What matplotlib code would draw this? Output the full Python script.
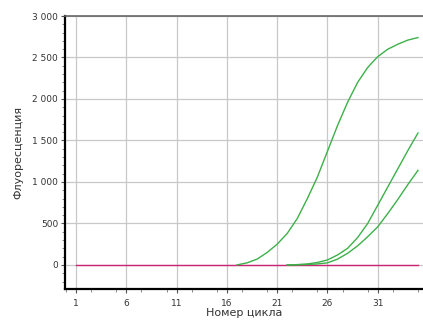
import matplotlib
matplotlib.use('Agg')
import matplotlib.pyplot as plt
from matplotlib.ticker import MultipleLocator

# данные кривых амплификации
cycles_1 = [17, 18, 19, 20, 21, 22, 23, 24, 25, 26, 27, 28, 29, 30, 31, 32, 33, 34, 35]
fluor_1 = [0, 25, 70, 150, 250, 380, 560, 800, 1060, 1370, 1680, 1960, 2200, 2380, 2510, 2600, 2660, 2710, 2740]

cycles_2 = [22, 23, 24, 25, 26, 27, 28, 29, 30, 31, 32, 33, 34, 35]
fluor_2 = [0, 4, 12, 30, 60, 120, 200, 330, 500, 720, 940, 1160, 1380, 1590]

cycles_3 = [22, 23, 24, 25, 26, 27, 28, 29, 30, 31, 32, 33, 34, 35]
fluor_3 = [0, 2, 5, 12, 25, 70, 140, 230, 340, 460, 620, 790, 970, 1140]

baseline_cycles = [1, 35]
baseline_vals = [0, 0]

x_ticks = [1, 6, 11, 16, 21, 26, 31]
y_ticks = [0, 500, 1000, 1500, 2000, 2500, 3000]
y_tick_labels = ['0', '500', '1 000', '1 500', '2 000', '2 500', '3 000']

plt.rcParams['font.family'] = ['DejaVu Sans']

fig = plt.figure(figsize=(4.23, 3.31), dpi=100)
ax = fig.add_axes([65 / 423, 42 / 331, 1 - 65 / 423, 273 / 331])

green = '#3db04a'
ax.plot(baseline_cycles, baseline_vals, color='#cc2277', lw=1.0, zorder=3)
ax.plot(cycles_1, fluor_1, color=green, lw=1.0, zorder=4)
ax.plot(cycles_2, fluor_2, color=green, lw=1.0, zorder=4)
ax.plot(cycles_3, fluor_3, color=green, lw=1.0, zorder=4)

ax.set_xlim(-0.1, 35.5)
ax.set_ylim(-290, 3000)

ax.set_xticks(x_ticks)
ax.set_xticklabels([str(c) for c in x_ticks])
ax.set_yticks(y_ticks)
ax.set_yticklabels(y_tick_labels)
ax.xaxis.set_minor_locator(MultipleLocator(2.5))
ax.yaxis.set_minor_locator(MultipleLocator(100))

ax.grid(True, which='major', color='#c8c8c8', lw=0.9)
ax.set_axisbelow(True)

ax.tick_params(axis='both', which='major', labelsize=6.5, length=3, width=0.8,
               color='#555555', labelcolor='#333333', pad=2)
ax.tick_params(axis='x', which='major', pad=4)
ax.tick_params(axis='both', which='minor', length=2, width=0.6, color='#777777')

ax.spines['left'].set_linewidth(1.6)
ax.spines['bottom'].set_linewidth(1.6)
ax.spines['top'].set_color('#666666')
ax.spines['top'].set_linewidth(1.2)
ax.spines['right'].set_visible(False)

ax.set_xlabel('Номер цикла', fontsize=8, color='#333333', labelpad=0)
ax.set_ylabel('Флуоресценция', fontsize=8, color='#333333', labelpad=6)

fig.savefig('out.png', dpi=100)
